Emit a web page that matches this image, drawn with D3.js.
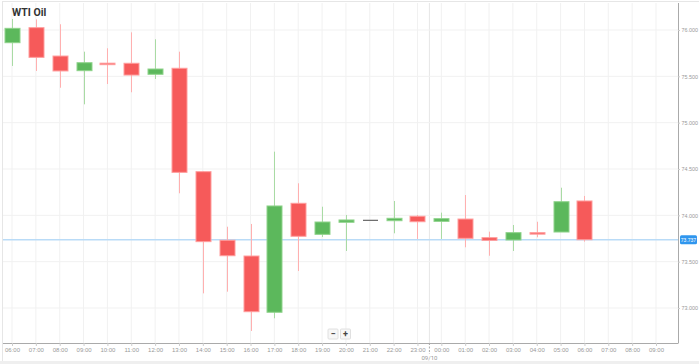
<!DOCTYPE html>
<html>
<head>
<meta charset="utf-8">
<script src="https://cdn.jsdelivr.net/npm/d3@7/dist/d3.min.js"></script>
<style>
  html, body { margin: 0; padding: 0; background: #fff; }
  svg { display: block; font-family: Roboto, "Open Sans", sans-serif; }
</style>
</head>
<body>
<svg id="chart" width="699" height="364"></svg>
<script>
// ---- Data ----
const hourLabels = ["06:00","07:00","08:00","09:00","10:00","11:00","12:00","13:00","14:00","15:00","16:00","17:00","18:00","19:00","20:00","21:00","22:00","23:00","00:00","01:00","02:00","03:00","04:00","05:00","06:00","07:00","08:00","09:00"];
const opens  = [75.863,76.025,75.719,75.561,75.642,75.641,75.522,75.587,74.471,73.731,73.561,72.954,74.130,73.795,73.925,73.946,73.942,73.990,73.935,73.960,73.759,73.734,73.813,73.820,74.155];
const highs  = [76.119,76.115,76.062,75.766,75.803,75.975,75.900,75.766,74.475,73.877,73.907,74.687,74.346,74.093,74.004,73.946,74.155,74.004,74.029,74.219,73.824,73.896,73.931,74.298,74.209];
const lows   = [75.612,75.558,75.377,75.198,75.417,75.328,75.471,74.238,73.158,73.176,72.752,72.889,73.399,73.766,73.615,73.946,73.806,73.745,73.745,73.655,73.564,73.615,73.763,73.820,73.716];
const closes = [76.018,75.705,75.558,75.647,75.638,75.514,75.579,74.464,73.716,73.564,72.960,74.101,73.774,73.928,73.950,73.946,73.968,73.931,73.964,73.752,73.730,73.813,73.798,74.147,73.737];
const yTicks = [76.0, 75.5, 75.0, 74.5, 74.0, 73.5, 73.0];
const currentPrice = 73.737;
const title = "WTI Oil";
const dayLabel = "09/10";
const dayBreakIndex = 17.5;

// ---- Layout ----
const svg = d3.select("#chart");
const plot = { left: 3, right: 678, top: 3, bottom: 343 };

const x = d3.scaleLinear().domain([0, 27]).range([12, 656]);
const y = d3.scaleLinear().domain([73, 76]).range([308, 30]);
const bodyW = 15;

// background band at bottom
svg.append("rect").attr("x", 0).attr("y", 361).attr("width", 699).attr("height", 3).attr("fill", "#efefef");
// frame
svg.append("line").attr("x1", 2).attr("x2", 699).attr("y1", 1.5).attr("y2", 1.5).attr("stroke", "#e6e6e6");
svg.append("line").attr("x1", 2.5).attr("x2", 2.5).attr("y1", 1).attr("y2", 361).attr("stroke", "#e6e6e6");

// vertical grid
const gx = svg.append("g");
d3.range(0, 28).forEach(i => {
  gx.append("line").attr("x1", x(i)).attr("x2", x(i)).attr("y1", plot.top).attr("y2", plot.bottom)
    .attr("stroke", "#f1f1f1").attr("stroke-width", 1);
});
gx.append("line").attr("x1", x(dayBreakIndex)).attr("x2", x(dayBreakIndex)).attr("y1", plot.top).attr("y2", plot.bottom)
  .attr("stroke", "#e6e6e6").attr("stroke-width", 1);

// horizontal grid
yTicks.forEach(v => {
  svg.append("line").attr("x1", plot.left).attr("x2", plot.right).attr("y1", y(v)).attr("y2", y(v))
    .attr("stroke", "#f1f1f1").attr("stroke-width", 1);
});

// current price line
svg.append("line").attr("x1", plot.left).attr("x2", plot.right).attr("y1", y(currentPrice)).attr("y2", y(currentPrice))
  .attr("stroke", "#b9dbf7").attr("stroke-width", 1.5);

// candles
const candles = d3.range(opens.length).map(i => ({ i, o: opens[i], h: highs[i], l: lows[i], c: closes[i] }));
const colorOf = d => d.c > d.o ? "up" : (d.c < d.o ? "down" : "flat");
const wickCol = { up: "#a9dba4", down: "#ffb0b0", flat: "#888" };
const fillCol = { up: "#5cb85c", down: "#f65a5a", flat: "#666" };
const strokeCol = { up: "#8fd38b", down: "#ff9d9d", flat: "#666" };

const gc = svg.append("g");
candles.forEach(d => {
  const t = colorOf(d);
  const cx = Math.round(x(d.i)) + 0.5;
  if (d.h !== d.l) {
    gc.append("line").attr("x1", cx).attr("x2", cx).attr("y1", y(d.h)).attr("y2", y(d.l))
      .attr("stroke", wickCol[t]).attr("stroke-width", 1);
  }
  const top = y(Math.max(d.o, d.c));
  const bot = y(Math.min(d.o, d.c));
  if (t === "flat") {
    gc.append("line").attr("x1", cx - bodyW / 2).attr("x2", cx + bodyW / 2).attr("y1", top).attr("y2", top)
      .attr("stroke", fillCol[t]).attr("stroke-width", 1.2);
  } else {
    const h = Math.max(bot - top, 1.5);
    gc.append("rect").attr("x", cx - bodyW / 2).attr("y", top).attr("width", bodyW).attr("height", h)
      .attr("fill", fillCol[t]).attr("stroke", strokeCol[t]).attr("stroke-width", 1);
  }
});

// right axis
const yAxis = d3.axisRight(y).tickValues(yTicks).tickFormat(d3.format(".3f")).tickSize(2).tickPadding(1.5);
const gy = svg.append("g").attr("transform", `translate(${plot.right},0)`).call(yAxis);
gy.select(".domain").attr("d", `M0.5,${plot.top}V${plot.bottom}`).attr("stroke", "#aaa");
gy.selectAll(".tick line").attr("stroke", "#ccc");
gy.selectAll(".tick text").attr("fill", "#999").style("font-size", "5.4px");

// bottom axis
const xAxis = d3.axisBottom(x).tickValues(d3.range(0, 28)).tickFormat(i => hourLabels[i]).tickSize(3).tickPadding(2);
const gxa = svg.append("g").attr("transform", `translate(0,${plot.bottom})`).call(xAxis);
gxa.select(".domain").attr("d", `M${plot.left},0.5H${plot.right + 0.5}`).attr("stroke", "#aaa");
gxa.selectAll(".tick line").attr("stroke", "#ccc");
gxa.selectAll(".tick text").attr("fill", "#999").style("font-size", "6px");

// day separator
svg.append("line").attr("x1", x(dayBreakIndex)).attr("x2", x(dayBreakIndex)).attr("y1", plot.bottom).attr("y2", plot.bottom + 11)
  .attr("stroke", "#aaa").attr("stroke-dasharray", "2,1.5");
svg.append("text").attr("x", x(dayBreakIndex)).attr("y", 359.5).attr("text-anchor", "middle")
  .attr("fill", "#999").style("font-size", "6px").text(dayLabel);

// price tag
const py = y(currentPrice);
svg.append("rect").attr("x", 680).attr("y", py - 4.5).attr("width", 17).attr("height", 9).attr("rx", 1.5).attr("fill", "#2f96ee");
svg.append("text").attr("x", 688.5).attr("y", py + 2).attr("text-anchor", "middle").attr("fill", "#fff")
  .style("font-size", "5px").text(currentPrice.toFixed(3));

// title
svg.append("text").attr("x", 12).attr("y", 16).attr("fill", "#333").style("font-size", "10.5px")
  .style("font-weight", "bold").text(title);

// zoom buttons
const btns = [{ t: "−", x: 333 }, { t: "+", x: 345.5 }];
btns.forEach(b => {
  svg.append("rect").attr("x", b.x - 5).attr("y", 329).attr("width", 10).attr("height", 10).attr("rx", 1)
    .attr("fill", "#f7f7f7").attr("stroke", "#e0e0e0");
  svg.append("text").attr("x", b.x).attr("y", 337).attr("text-anchor", "middle").attr("fill", "#444")
    .style("font-size", "9px").style("font-weight", "bold").text(b.t);
});
</script>
</body>
</html>
